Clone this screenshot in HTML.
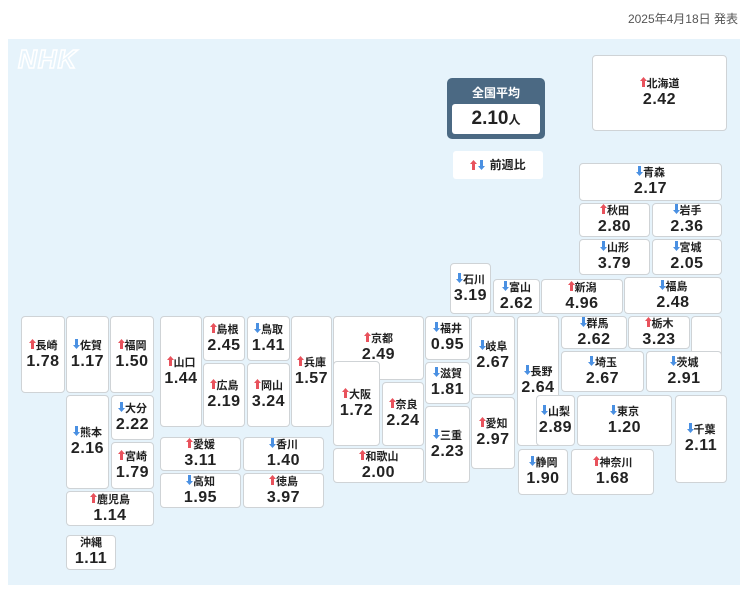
<!DOCTYPE html>
<html><head><meta charset="utf-8"><style>
body{margin:0;width:750px;height:592px;background:#fff;font-family:"Liberation Sans","Noto Sans CJK JP",sans-serif;position:relative;overflow:hidden}
#panel{position:absolute;left:8px;top:39px;width:732px;height:546px;background:#e6f3fb}
.b{position:absolute;background:#fff;border:1.5px solid #cfd3d6;border-radius:4px;box-sizing:border-box;display:flex;flex-direction:column;align-items:center;justify-content:center;color:#222}
.l{font-size:11px;font-weight:bold;line-height:13px;white-space:nowrap}
.v{font-size:16px;font-weight:bold;line-height:18px;letter-spacing:0.5px}
.u,.d{display:inline-block;width:7px;height:10px;vertical-align:-1px;margin-right:1px}
.date{position:absolute;right:12px;top:10px;font-size:12px;color:#555}
.nhk{position:absolute;left:18px;top:44px;font-size:26px;font-weight:bold;font-style:italic;color:#e6f3fb;-webkit-text-stroke:1.5px #fff;letter-spacing:1px}
</style></head><body>
<div class="date">2025年4月18日 発表</div>
<div id="panel"></div>
<div class="nhk">NHK</div>
<div style="position:absolute;left:447px;top:78px;width:98px;height:61px;background:#4b6983;border-radius:5px"></div>
<div style="position:absolute;left:447px;top:84px;width:98px;text-align:center;color:#fff;font-size:12px;font-weight:bold">全国平均</div>
<div style="position:absolute;left:452px;top:104px;width:88px;height:30px;background:#fff;border-radius:3px;text-align:center;font-size:19px;font-weight:bold;line-height:30px;color:#222">2.10<span style="font-size:12px">人</span></div>
<div style="position:absolute;left:453px;top:151px;width:90px;height:28px;background:#fff;border-radius:3px;font-size:12px;font-weight:bold;line-height:28px;text-align:center;color:#222"><span class="u"></span><span class="d"></span> 前週比</div>
<div id="m"></div>
<script>
const U='<svg width="7" height="10" viewBox="0 0 7 10"><path d="M3.5 0L7 4H5V10H2V4H0Z" fill="#e8525c"/></svg>';
const D='<svg width="7" height="10" viewBox="0 0 7 10"><path d="M3.5 10L7 6H5V0H2V6H0Z" fill="#4a90e2"/></svg>';
document.querySelectorAll('.u').forEach(e=>e.outerHTML='<span class="u">'+U+'</span>');
document.querySelectorAll('.d').forEach(e=>e.outerHTML='<span class="d">'+D+'</span>');
const P=[
['北海道','u','2.42',592,55,727,131],
['青森','d','2.17',579,163,722,201],
['秋田','u','2.80',579,203,650,237],['岩手','d','2.36',652,203,722,237],
['山形','d','3.79',579,239,650,275],['宮城','d','2.05',652,239,722,275],
['石川','d','3.19',450,263,491,314],['富山','d','2.62',493,279,540,314],
['新潟','u','4.96',541,279,623,314],['福島','d','2.48',624,277,722,314],
['長崎','u','1.78',21,316,65,393],['佐賀','d','1.17',66,316,109,393],['福岡','u','1.50',110,316,154,393],
['熊本','d','2.16',66,395,109,489],['大分','d','2.22',111,395,154,440],['宮崎','u','1.79',111,442,154,489],
['鹿児島','u','1.14',66,491,154,526],['沖縄','','1.11',66,535,116,570],
['山口','u','1.44',160,316,202,427],['島根','u','2.45',203,316,245,361],['鳥取','d','1.41',247,316,290,361],
['広島','u','2.19',203,363,245,427],['岡山','u','3.24',247,363,290,427],['兵庫','u','1.57',291,316,332,427],
['愛媛','u','3.11',160,437,241,471],['香川','d','1.40',243,437,324,471],
['高知','d','1.95',160,473,241,508],['徳島','u','3.97',243,473,324,508],
['京都','u','2.49',333,316,424,380],['大阪','u','1.72',333,361,380,446],['奈良','u','2.24',382,382,424,446],
['和歌山','u','2.00',333,448,424,483],
['福井','d','0.95',425,316,470,360],['滋賀','d','1.81',425,362,470,404],['三重','d','2.23',425,406,470,483],
['岐阜','d','2.67',471,316,515,395],['愛知','u','2.97',471,397,515,469],
['長野','d','2.64',517,316,559,446],
['',null,'',691,316,722,392],
['群馬','d','2.62',561,316,627,349],['栃木','u','3.23',628,316,690,349],
['埼玉','d','2.67',561,351,644,392],['茨城','d','2.91',646,351,722,392],
['山梨','d','2.89',536,395,575,446],['東京','d','1.20',577,395,672,446],['千葉','d','2.11',675,395,727,483],
['静岡','d','1.90',518,449,568,495],['神奈川','u','1.68',571,449,654,495]];
let h='';
for(const [n,a,v,x1,y1,x2,y2] of P){
 const ar=a==='u'?U:a==='d'?D:'';
 h+=`<div class="b" style="left:${x1}px;top:${y1}px;width:${x2-x1}px;height:${y2-y1}px">`+(n?`<div class="l">${ar}${n}</div><div class="v">${v}</div>`:'')+`</div>`;
}
document.getElementById('m').innerHTML=h;
</script>
</body></html>
